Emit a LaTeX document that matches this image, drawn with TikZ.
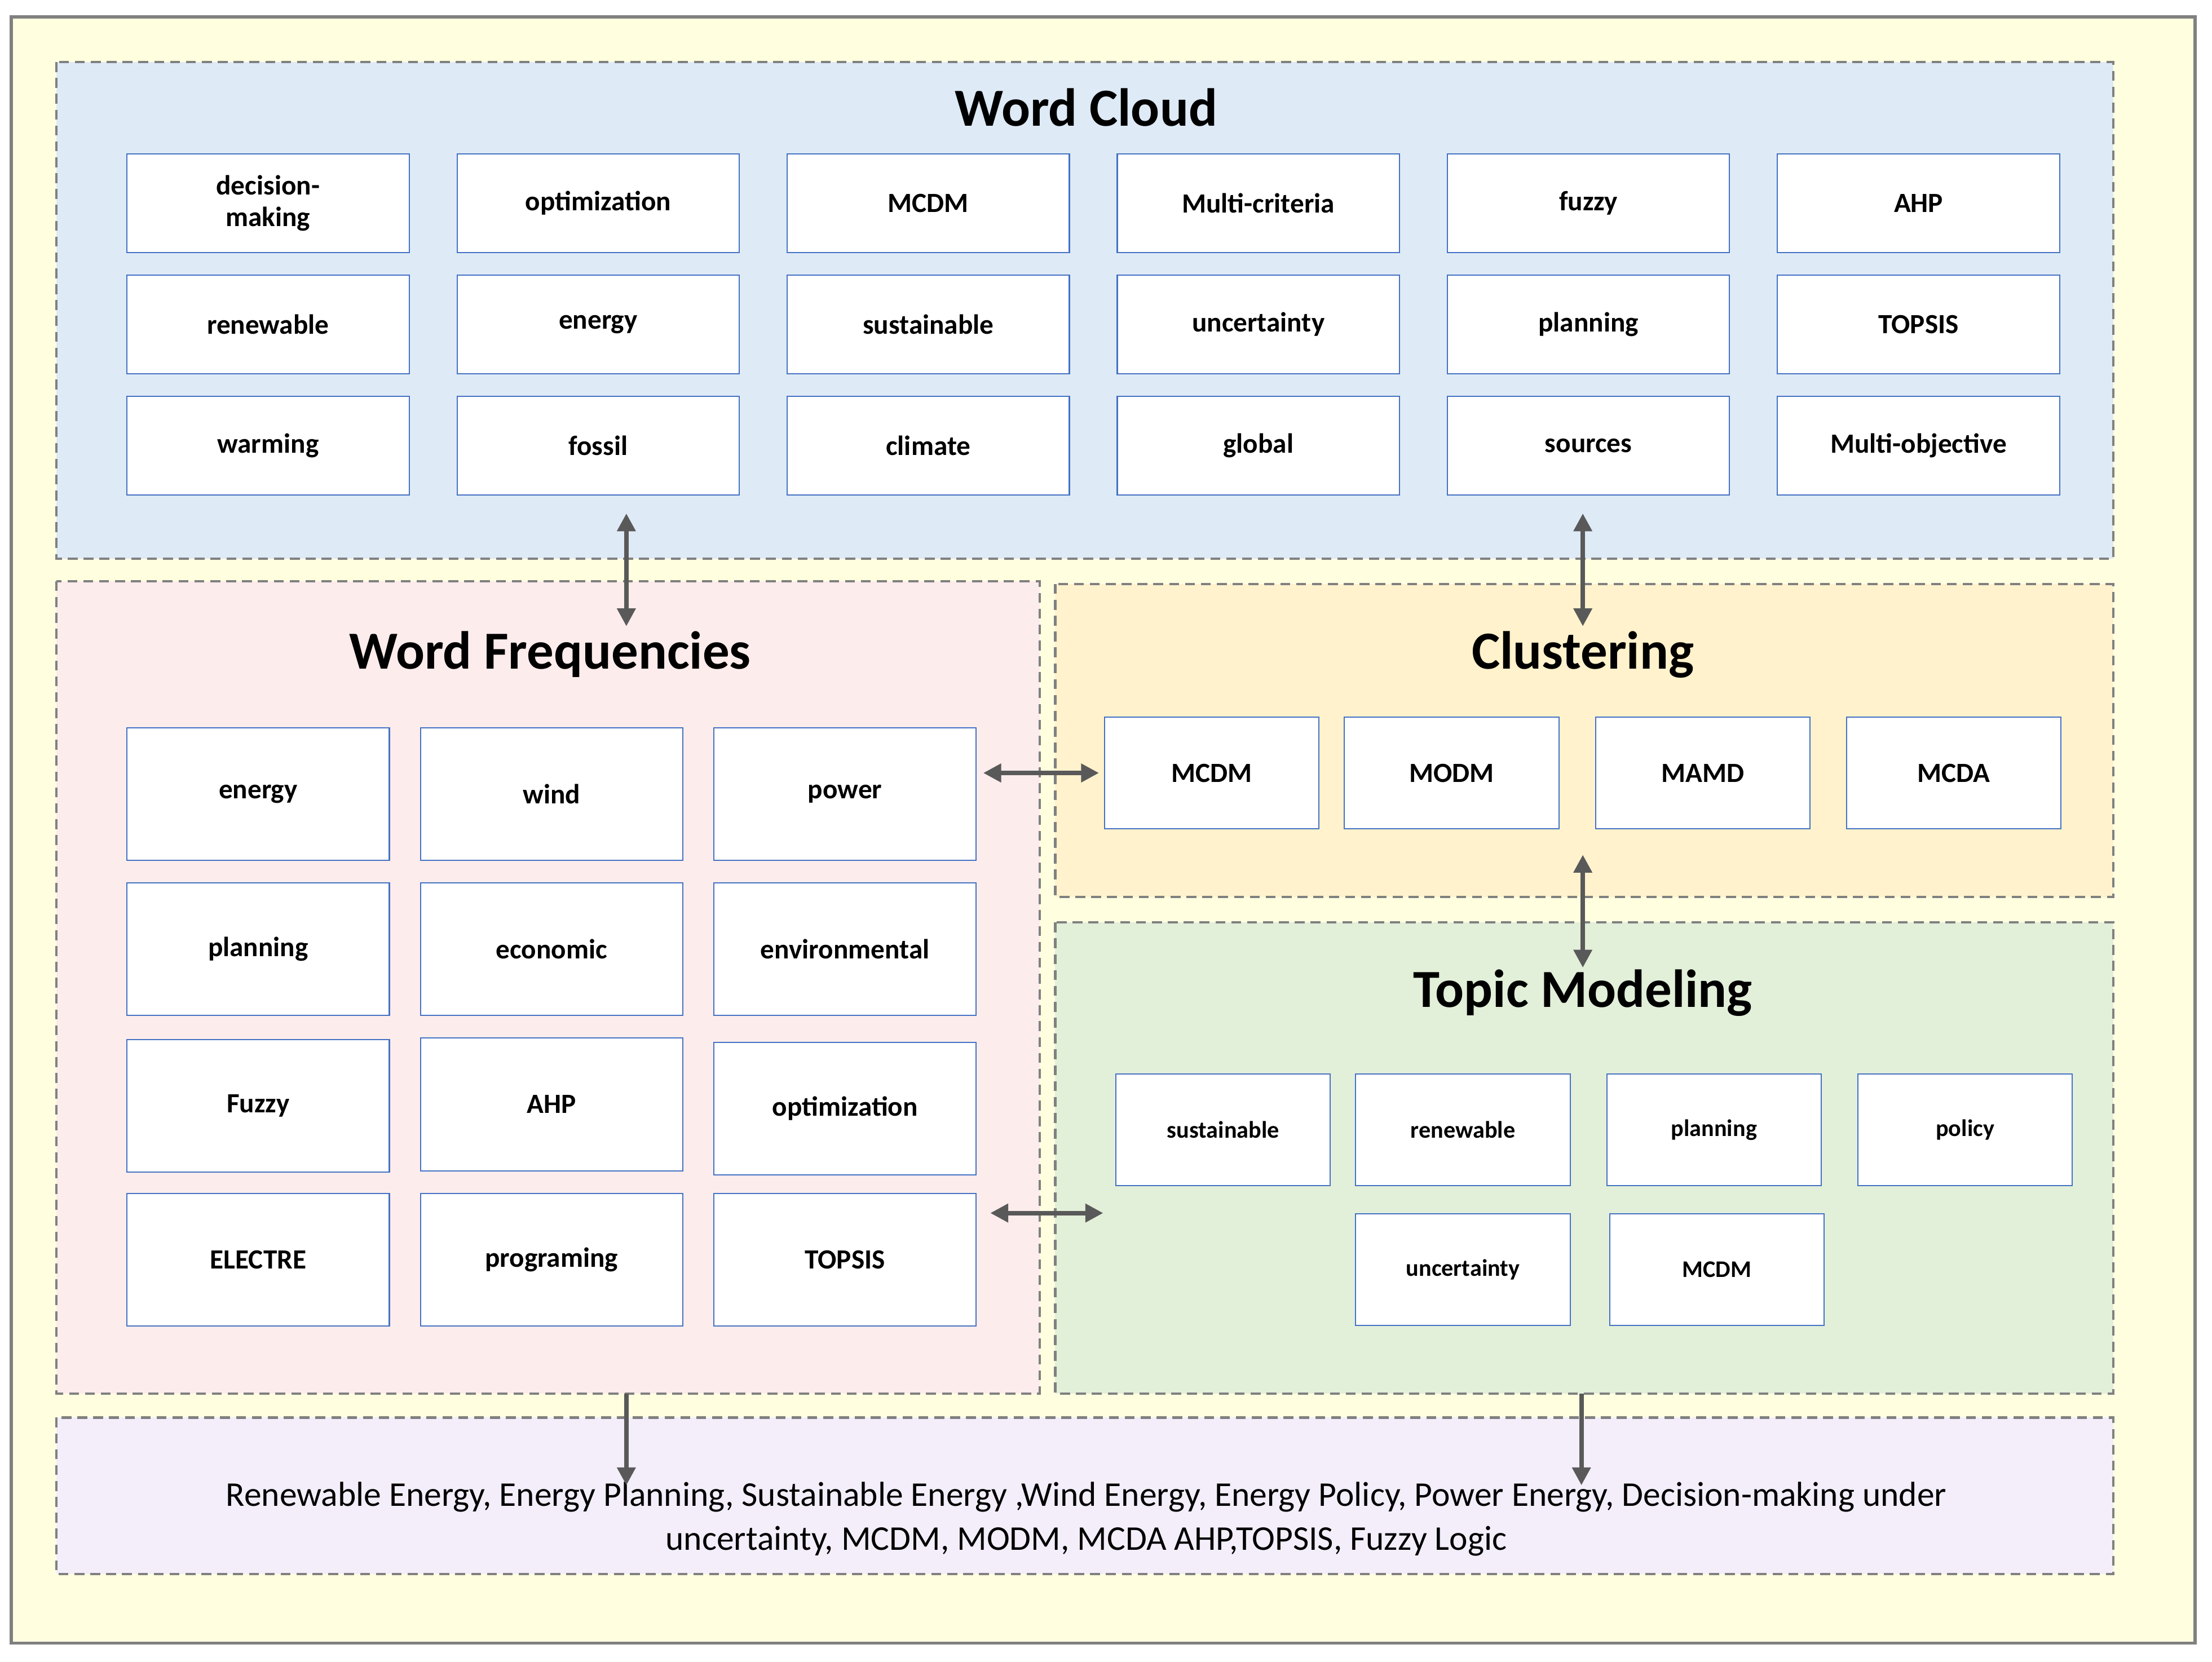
\documentclass[tikz,border=0pt]{standalone}
\usepackage{fontspec}
\setmainfont{Carlito}
\usetikzlibrary{arrows.meta}
\definecolor{bord}{HTML}{808080}
\definecolor{boxb}{HTML}{4472C4}
\definecolor{arr}{HTML}{595959}
\begin{document}
\begin{tikzpicture}[x=0.025cm,y=-0.025cm,
 panel/.style={draw=bord,dashed,line width=1.2pt,dash pattern=on 5pt off 3pt},
 wb/.style={draw=boxb,fill=white,line width=0.6pt,inner sep=0,font=\bfseries\fontsize{14}{16}\selectfont,align=center},
 tb/.style={wb,font=\bfseries\fontsize{12}{14}\selectfont},
 ttl/.style={font=\bfseries\fontsize{27}{30}\selectfont},
 da/.style={{Triangle[length=9pt,width=9pt]}-{Triangle[length=9pt,width=9pt]},draw=arr,line width=2.2pt},
 sa/.style={-{Triangle[length=9pt,width=9pt]},draw=arr,line width=2.2pt}]
\useasboundingbox (0,0) rectangle (1568,1178);
\draw[fill={rgb,255:red,255;green,255;blue,224},draw=bord,line width=1.5pt] (8,12) rectangle (1556,1165);
\draw[panel,fill={rgb,255:red,222;green,234;blue,246}] (40,44) rectangle (1498,396);
\draw[panel,fill={rgb,255:red,253;green,236;blue,236}] (40,412) rectangle (737,988);
\draw[panel,fill={rgb,255:red,255;green,242;blue,204}] (748,414) rectangle (1498,636);
\draw[panel,fill={rgb,255:red,226;green,239;blue,217}] (748,654) rectangle (1498,988);
\draw[panel,fill={rgb,255:red,243;green,238;blue,250}] (40,1005) rectangle (1498,1116);
\node[ttl] (t1) at (770,76) {Word Cloud};
\node[ttl] (t2) at (390,464) {Word Frequencies};
\node[ttl] (t3) at (1122,464) {Clustering};
\node[ttl] (t4) at (1122,704) {Topic Modeling};
% word cloud
\foreach \r/\y in {0/144,1/230,2/316}{
 \foreach \c/\x in {0/190,1/424,2/658,3/892,4/1126,5/1360}{
  \coordinate (wc\r\c) at (\x,\y);}}
\def\wcbox#1#2{\node[wb,minimum width=200*0.025cm,minimum height=70*0.025cm] (w#1) at (wc#1) {#2};}
\wcbox{00}{decision-\\making}\wcbox{01}{optimization}\wcbox{02}{MCDM}\wcbox{03}{Multi-criteria}\wcbox{04}{fuzzy}\wcbox{05}{AHP}
\wcbox{10}{renewable}\wcbox{11}{energy}\wcbox{12}{sustainable}\wcbox{13}{uncertainty}\wcbox{14}{planning}\wcbox{15}{TOPSIS}
\wcbox{20}{warming}\wcbox{21}{fossil}\wcbox{22}{climate}\wcbox{23}{global}\wcbox{24}{sources}\wcbox{25}{Multi-objective}
% word freq
\def\wfbox#1#2#3#4{\node[wb,minimum width=186*0.025cm,minimum height=94*0.025cm] (f#1) at (#2,#3) {#4};}
\wfbox{00}{183}{563}{energy}\wfbox{01}{391}{563}{wind}\wfbox{02}{599}{563}{power}
\wfbox{10}{183}{673}{planning}\wfbox{11}{391}{673}{economic}\wfbox{12}{599}{673}{environmental}
\wfbox{20}{183}{784}{Fuzzy}\wfbox{21}{391}{783}{AHP}\wfbox{22}{599}{786}{optimization}
\wfbox{30}{183}{893}{ELECTRE}\wfbox{31}{391}{893}{programing}\wfbox{32}{599}{893}{TOPSIS}
% clustering
\def\clbox#1#2#3{\node[wb,minimum width=152*0.025cm,minimum height=79*0.025cm] (c#1) at (#2,548) {#3};}
\clbox{1}{859}{MCDM}\clbox{2}{1029}{MODM}\clbox{3}{1207}{MAMD}\clbox{4}{1385}{MCDA}
% topic
\def\tpbox#1#2#3#4{\node[tb,minimum width=152*0.025cm,minimum height=79*0.025cm] (p#1) at (#2,#3) {#4};}
\tpbox{1}{867}{801}{sustainable}\tpbox{2}{1037}{801}{renewable}\tpbox{3}{1215}{801}{planning}\tpbox{4}{1393}{801}{policy}
\tpbox{5}{1037}{900}{uncertainty}\tpbox{6}{1217}{900}{MCDM}
% bottom
\node[font=\fontsize{17.5}{22}\selectfont,align=center] (res) at (770,1077) {Renewable Energy, Energy Planning, Sustainable Energy ,Wind Energy, Energy Policy, Power Energy, Decision-making under\\uncertainty, MCDM, MODM, MCDA AHP,TOPSIS, Fuzzy Logic};
% arrows
\coordinate (a1) at (444,364); \coordinate (a2) at (444,444);
\coordinate (b1) at (1122,364); \coordinate (b2) at (1122,444);
\coordinate (h1) at (697,548); \coordinate (h2) at (779,548);
\coordinate (v1) at (1122,606); \coordinate (v2) at (1122,686);
\coordinate (k1) at (702,860); \coordinate (k2) at (782,860);
\coordinate (d1) at (444,988); \coordinate (d2) at (444,1053);
\coordinate (e1) at (1121,988); \coordinate (e2) at (1121,1053);
\draw[da] (a1)--(a2); \draw[da] (b1)--(b2); \draw[da] (h1)--(h2);
\draw[da] (v1)--(v2); \draw[da] (k1)--(k2);
\draw[sa] (d1)--(d2); \draw[sa] (e1)--(e2);
\end{tikzpicture}
\end{document}
